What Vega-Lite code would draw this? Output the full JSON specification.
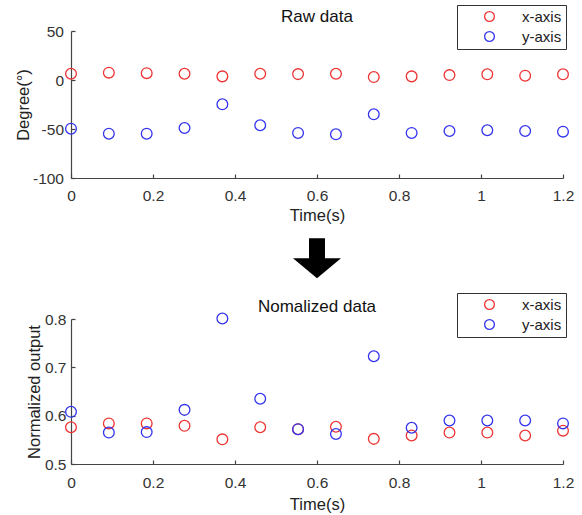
{
  "$schema": "https://vega.github.io/schema/vega-lite/v6.json",
  "padding": {"left": 15, "top": 4, "right": 5, "bottom": 5},
  "bounds": "flush",
  "spacing": 10,
  "background": "white",
  "config": {
    "font": "Liberation Sans",
    "view": {"stroke": null},
    "axis": {
      "domainColor": "#444", "domainWidth": 1.2, "tickColor": "#444", "tickSize": -4, "tickWidth": 1.2,
      "labelColor": "#333", "labelFont": "Liberation Sans", "labelFontSize": 15.5,
      "titleFont": "Liberation Sans", "titleFontSize": 16.5, "titleFontWeight": "normal", "titleColor": "#222",
      "grid": false, "labelFlush": false, "labelOverlap": false
    },
    "title": {"fontSize": 17, "fontWeight": "normal", "font": "Liberation Sans", "color": "#111", "anchor": "middle"},
    "legend": {
      "orient": "none", "direction": "vertical", "title": null,
      "strokeColor": "#333", "fillColor": "white", "padding": 4,
      "symbolType": "circle", "symbolSize": 95, "symbolStrokeWidth": 1.3, "symbolFillColor": "transparent",
      "labelFont": "Liberation Sans", "labelFontSize": 15, "labelColor": "#222",
      "labelOffset": 25, "symbolOffset": 21, "rowPadding": 4
    }
  },
  "datasets": {
    "raw": [
      {"t": 0, "axis": "x-axis", "v": 6.4},
      {"t": 0.0923, "axis": "x-axis", "v": 7.5},
      {"t": 0.1846, "axis": "x-axis", "v": 7},
      {"t": 0.2769, "axis": "x-axis", "v": 6.4},
      {"t": 0.3692, "axis": "x-axis", "v": 3.7},
      {"t": 0.4615, "axis": "x-axis", "v": 6.4},
      {"t": 0.5538, "axis": "x-axis", "v": 6},
      {"t": 0.6462, "axis": "x-axis", "v": 6.4},
      {"t": 0.7385, "axis": "x-axis", "v": 3},
      {"t": 0.8308, "axis": "x-axis", "v": 3.7},
      {"t": 0.9231, "axis": "x-axis", "v": 5},
      {"t": 1.0154, "axis": "x-axis", "v": 5.8},
      {"t": 1.1077, "axis": "x-axis", "v": 4.4},
      {"t": 1.2, "axis": "x-axis", "v": 5.8},
      {"t": 0, "axis": "y-axis", "v": -49.7},
      {"t": 0.0923, "axis": "y-axis", "v": -54.8},
      {"t": 0.1846, "axis": "y-axis", "v": -54.8},
      {"t": 0.2769, "axis": "y-axis", "v": -49},
      {"t": 0.3692, "axis": "y-axis", "v": -24.8},
      {"t": 0.4615, "axis": "y-axis", "v": -46.2},
      {"t": 0.5538, "axis": "y-axis", "v": -54},
      {"t": 0.6462, "axis": "y-axis", "v": -55.4},
      {"t": 0.7385, "axis": "y-axis", "v": -35},
      {"t": 0.8308, "axis": "y-axis", "v": -54},
      {"t": 0.9231, "axis": "y-axis", "v": -52},
      {"t": 1.0154, "axis": "y-axis", "v": -51.3},
      {"t": 1.1077, "axis": "y-axis", "v": -52},
      {"t": 1.2, "axis": "y-axis", "v": -52.7}
    ],
    "norm": [
      {"t": 0, "axis": "x-axis", "v": 0.576},
      {"t": 0.0923, "axis": "x-axis", "v": 0.584},
      {"t": 0.1846, "axis": "x-axis", "v": 0.584},
      {"t": 0.2769, "axis": "x-axis", "v": 0.579},
      {"t": 0.3692, "axis": "x-axis", "v": 0.551},
      {"t": 0.4615, "axis": "x-axis", "v": 0.576},
      {"t": 0.5538, "axis": "x-axis", "v": 0.572},
      {"t": 0.6462, "axis": "x-axis", "v": 0.577},
      {"t": 0.7385, "axis": "x-axis", "v": 0.552},
      {"t": 0.8308, "axis": "x-axis", "v": 0.559},
      {"t": 0.9231, "axis": "x-axis", "v": 0.565},
      {"t": 1.0154, "axis": "x-axis", "v": 0.565},
      {"t": 1.1077, "axis": "x-axis", "v": 0.559},
      {"t": 1.2, "axis": "x-axis", "v": 0.569},
      {"t": 0, "axis": "y-axis", "v": 0.608},
      {"t": 0.0923, "axis": "y-axis", "v": 0.565},
      {"t": 0.1846, "axis": "y-axis", "v": 0.566},
      {"t": 0.2769, "axis": "y-axis", "v": 0.612},
      {"t": 0.3692, "axis": "y-axis", "v": 0.801},
      {"t": 0.4615, "axis": "y-axis", "v": 0.635},
      {"t": 0.5538, "axis": "y-axis", "v": 0.572},
      {"t": 0.6462, "axis": "y-axis", "v": 0.562},
      {"t": 0.7385, "axis": "y-axis", "v": 0.723},
      {"t": 0.8308, "axis": "y-axis", "v": 0.575},
      {"t": 0.9231, "axis": "y-axis", "v": 0.59},
      {"t": 1.0154, "axis": "y-axis", "v": 0.59},
      {"t": 1.1077, "axis": "y-axis", "v": 0.59},
      {"t": 1.2, "axis": "y-axis", "v": 0.584}
    ],
    "arrow": [{"x": 0.6, "y": 0.42}]
  },
  "resolve": {"scale": {"color": "independent"}, "legend": {"color": "independent"}},
  "vconcat": [
    {
      "title": {"text": "Raw data", "offset": -21},
      "width": 492, "height": 147,
      "data": {"name": "raw"},
      "mark": {"type": "point", "shape": "circle", "filled": false, "size": 115, "strokeWidth": 1.3, "opacity": 1, "clip": false},
      "encoding": {
        "x": {"field": "t", "type": "quantitative", "scale": {"domain": [0, 1.2], "nice": false, "zero": false},
              "axis": {"title": "Time(s)", "values": [0, 0.2, 0.4, 0.6, 0.8, 1, 1.2], "labelExpr": "'' + datum.value", "labelPadding": 14, "titlePadding": 4}},
        "y": {"field": "v", "type": "quantitative", "scale": {"domain": [-100, 50], "nice": false, "zero": false},
              "axis": {"title": "Degree(°)", "values": [-100, -50, 0, 50], "labelExpr": "'' + datum.value", "labelPadding": 11.5, "minExtent": 36, "maxExtent": 36, "titlePadding": 3.5}},
        "color": {"field": "axis", "type": "nominal", "scale": {"domain": ["x-axis", "y-axis"], "range": ["#ee3333", "#3333ee"]},
                  "legend": {"orient": "none", "legendX": 386, "legendY": -26}}
      }
    },
    {
      "width": 492, "height": 121,
      "data": {"name": "arrow"},
      "mark": {"type": "point", "shape": "M -0.333 -0.833 L 0.333 -0.833 L 0.333 0 L 1 0 L 0 0.833 L -1 0 L -0.333 0 Z", "filled": true, "color": "#000000", "size": 2304, "opacity": 1},
      "encoding": {
        "x": {"field": "x", "type": "quantitative", "scale": {"domain": [0, 1.2], "nice": false}, "axis": null},
        "y": {"field": "y", "type": "quantitative", "scale": {"domain": [0, 1], "nice": false}, "axis": null}
      }
    },
    {
      "title": {"text": "Nomalized data", "offset": -23},
      "width": 492, "height": 145,
      "data": {"name": "norm"},
      "mark": {"type": "point", "shape": "circle", "filled": false, "size": 115, "strokeWidth": 1.3, "opacity": 1, "clip": false},
      "encoding": {
        "x": {"field": "t", "type": "quantitative", "scale": {"domain": [0, 1.2], "nice": false, "zero": false},
              "axis": {"title": "Time(s)", "values": [0, 0.2, 0.4, 0.6, 0.8, 1, 1.2], "labelExpr": "'' + datum.value", "labelPadding": 15, "titlePadding": 6}},
        "y": {"field": "v", "type": "quantitative", "scale": {"domain": [0.5, 0.8], "nice": false, "zero": false},
              "axis": {"title": "Normalized output", "values": [0.5, 0.6, 0.7, 0.8], "labelExpr": "'' + datum.value", "labelPadding": 9, "minExtent": 25, "maxExtent": 25, "titlePadding": 4}},
        "color": {"field": "axis", "type": "nominal", "scale": {"domain": ["x-axis", "y-axis"], "range": ["#ee3333", "#3333ee"]},
                  "legend": {"orient": "none", "legendX": 386, "legendY": -26}}
      }
    }
  ]
}
